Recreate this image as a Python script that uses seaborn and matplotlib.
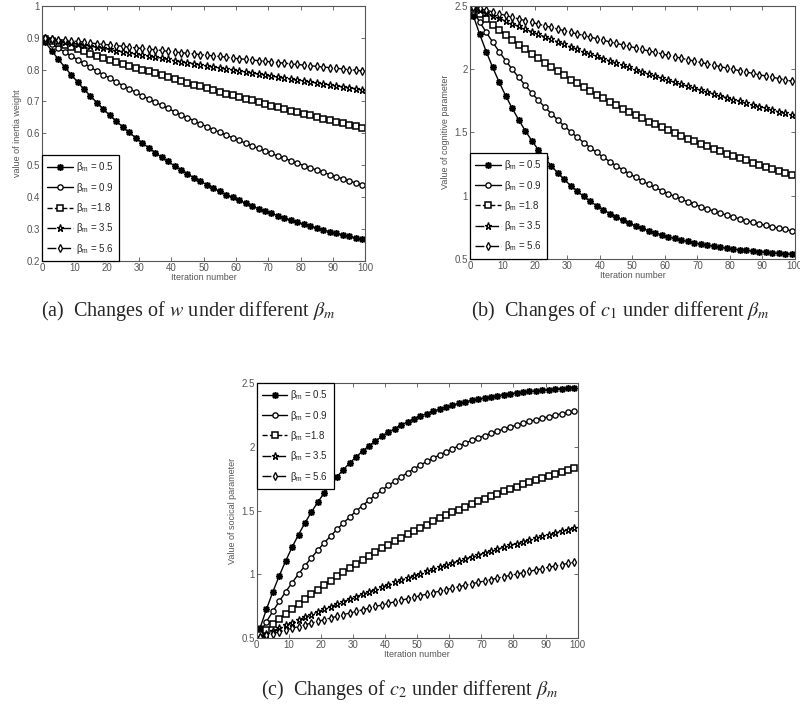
import matplotlib
matplotlib.use("Agg")
import matplotlib.pyplot as plt
import seaborn as sns
from matplotlib.font_manager import FontProperties
from matplotlib.ticker import FuncFormatter, MultipleLocator

# iteration numbers where the markers sit
iterations = list(range(1, 100, 2))
beta_labels = ["$\\mathregular{\\beta_m}$ = 0.5", "$\\mathregular{\\beta_m}$ = 0.9",
               "$\\mathregular{\\beta_m}$ =1.8", "$\\mathregular{\\beta_m}$ = 3.5",
               "$\\mathregular{\\beta_m}$ = 5.6"]

# (a) inertia weight w
w_b05 = [0.886, 0.859, 0.833, 0.808, 0.784, 0.761, 0.738, 0.717, 0.696, 0.676,
         0.656, 0.638, 0.620, 0.603, 0.586, 0.570, 0.555, 0.540, 0.525, 0.512,
         0.498, 0.486, 0.473, 0.461, 0.450, 0.439, 0.428, 0.418, 0.408, 0.399,
         0.390, 0.381, 0.372, 0.364, 0.356, 0.349, 0.342, 0.334, 0.328, 0.321,
         0.315, 0.309, 0.303, 0.297, 0.292, 0.287, 0.282, 0.277, 0.272, 0.268]
w_b09 = [0.893, 0.881, 0.868, 0.855, 0.843, 0.831, 0.819, 0.807, 0.795, 0.784,
         0.773, 0.761, 0.750, 0.740, 0.729, 0.718, 0.708, 0.698, 0.688, 0.678,
         0.668, 0.658, 0.649, 0.640, 0.630, 0.621, 0.612, 0.603, 0.595, 0.586,
         0.578, 0.569, 0.561, 0.553, 0.545, 0.537, 0.529, 0.522, 0.514, 0.507,
         0.499, 0.492, 0.485, 0.478, 0.471, 0.464, 0.458, 0.451, 0.445, 0.438]
w_b18 = [0.897, 0.890, 0.883, 0.876, 0.870, 0.863, 0.857, 0.850, 0.844, 0.837,
         0.831, 0.825, 0.818, 0.812, 0.806, 0.800, 0.794, 0.788, 0.782, 0.776,
         0.770, 0.764, 0.758, 0.753, 0.747, 0.741, 0.736, 0.730, 0.724, 0.719,
         0.713, 0.708, 0.703, 0.697, 0.692, 0.687, 0.682, 0.676, 0.671, 0.666,
         0.661, 0.656, 0.651, 0.646, 0.641, 0.636, 0.632, 0.627, 0.622, 0.617]
w_b35 = [0.898, 0.895, 0.891, 0.887, 0.884, 0.880, 0.877, 0.873, 0.870, 0.866,
         0.863, 0.859, 0.856, 0.852, 0.849, 0.845, 0.842, 0.838, 0.835, 0.832,
         0.828, 0.825, 0.822, 0.818, 0.815, 0.812, 0.808, 0.805, 0.802, 0.799,
         0.795, 0.792, 0.789, 0.786, 0.783, 0.779, 0.776, 0.773, 0.770, 0.767,
         0.764, 0.761, 0.758, 0.755, 0.752, 0.749, 0.746, 0.743, 0.740, 0.737]
w_b56 = [0.899, 0.897, 0.894, 0.892, 0.890, 0.888, 0.886, 0.883, 0.881, 0.879,
         0.877, 0.875, 0.873, 0.870, 0.868, 0.866, 0.864, 0.862, 0.860, 0.857,
         0.855, 0.853, 0.851, 0.849, 0.847, 0.845, 0.843, 0.841, 0.839, 0.836,
         0.834, 0.832, 0.830, 0.828, 0.826, 0.824, 0.822, 0.820, 0.818, 0.816,
         0.814, 0.812, 0.810, 0.808, 0.806, 0.804, 0.802, 0.800, 0.798, 0.796]

# (b) cognitive parameter c1
c1_b05 = [2.422, 2.274, 2.137, 2.012, 1.895, 1.788, 1.689, 1.598, 1.513, 1.435,
          1.363, 1.297, 1.236, 1.179, 1.127, 1.079, 1.034, 0.993, 0.955, 0.920,
          0.888, 0.858, 0.831, 0.805, 0.782, 0.760, 0.740, 0.722, 0.705, 0.689,
          0.674, 0.661, 0.649, 0.637, 0.627, 0.617, 0.608, 0.600, 0.592, 0.585,
          0.578, 0.572, 0.567, 0.562, 0.557, 0.553, 0.548, 0.545, 0.541, 0.538]
c1_b09 = [2.456, 2.371, 2.290, 2.212, 2.137, 2.066, 1.998, 1.933, 1.871, 1.811,
          1.754, 1.700, 1.648, 1.598, 1.550, 1.504, 1.461, 1.419, 1.379, 1.341,
          1.304, 1.269, 1.236, 1.204, 1.173, 1.144, 1.116, 1.089, 1.064, 1.039,
          1.016, 0.993, 0.972, 0.951, 0.932, 0.913, 0.895, 0.878, 0.861, 0.846,
          0.831, 0.816, 0.802, 0.789, 0.777, 0.765, 0.753, 0.742, 0.732, 0.722]
c1_b18 = [2.478, 2.434, 2.392, 2.350, 2.310, 2.270, 2.231, 2.193, 2.156, 2.119,
          2.084, 2.049, 2.015, 1.982, 1.949, 1.917, 1.886, 1.856, 1.826, 1.797,
          1.768, 1.740, 1.713, 1.686, 1.660, 1.635, 1.610, 1.585, 1.562, 1.538,
          1.515, 1.493, 1.471, 1.450, 1.429, 1.409, 1.389, 1.369, 1.350, 1.331,
          1.313, 1.295, 1.278, 1.261, 1.244, 1.228, 1.212, 1.196, 1.181, 1.166]
c1_b35 = [2.489, 2.466, 2.444, 2.422, 2.400, 2.378, 2.357, 2.336, 2.315, 2.294,
          2.274, 2.254, 2.234, 2.214, 2.195, 2.175, 2.156, 2.137, 2.119, 2.100,
          2.082, 2.064, 2.047, 2.029, 2.012, 1.994, 1.977, 1.961, 1.944, 1.928,
          1.911, 1.895, 1.879, 1.864, 1.848, 1.833, 1.818, 1.803, 1.788, 1.773,
          1.759, 1.745, 1.730, 1.717, 1.703, 1.689, 1.676, 1.662, 1.649, 1.636]
c1_b56 = [2.493, 2.479, 2.465, 2.451, 2.437, 2.423, 2.409, 2.396, 2.382, 2.369,
          2.355, 2.342, 2.329, 2.316, 2.303, 2.290, 2.278, 2.265, 2.252, 2.240,
          2.228, 2.215, 2.203, 2.191, 2.179, 2.167, 2.155, 2.143, 2.132, 2.120,
          2.108, 2.097, 2.086, 2.074, 2.063, 2.052, 2.041, 2.030, 2.019, 2.008,
          1.998, 1.987, 1.976, 1.966, 1.955, 1.945, 1.935, 1.925, 1.914, 1.904]

# (c) social parameter c2
c2_b05 = [0.578, 0.726, 0.863, 0.988, 1.105, 1.212, 1.311, 1.402, 1.487, 1.565,
          1.637, 1.703, 1.764, 1.821, 1.873, 1.921, 1.966, 2.007, 2.045, 2.080,
          2.112, 2.142, 2.169, 2.195, 2.218, 2.240, 2.260, 2.278, 2.295, 2.311,
          2.326, 2.339, 2.351, 2.363, 2.373, 2.383, 2.392, 2.400, 2.408, 2.415,
          2.422, 2.428, 2.433, 2.438, 2.443, 2.447, 2.452, 2.455, 2.459, 2.462]
c2_b09 = [0.544, 0.629, 0.710, 0.788, 0.863, 0.934, 1.002, 1.067, 1.129, 1.189,
          1.246, 1.300, 1.352, 1.402, 1.450, 1.496, 1.539, 1.581, 1.621, 1.659,
          1.696, 1.731, 1.764, 1.796, 1.827, 1.856, 1.884, 1.911, 1.936, 1.961,
          1.984, 2.007, 2.028, 2.049, 2.068, 2.087, 2.105, 2.122, 2.139, 2.154,
          2.169, 2.184, 2.198, 2.211, 2.223, 2.235, 2.247, 2.258, 2.268, 2.278]
c2_b18 = [0.522, 0.566, 0.608, 0.650, 0.690, 0.730, 0.769, 0.807, 0.844, 0.881,
          0.916, 0.951, 0.985, 1.018, 1.051, 1.083, 1.114, 1.144, 1.174, 1.203,
          1.232, 1.260, 1.287, 1.314, 1.340, 1.365, 1.390, 1.415, 1.438, 1.462,
          1.485, 1.507, 1.529, 1.550, 1.571, 1.591, 1.611, 1.631, 1.650, 1.669,
          1.687, 1.705, 1.722, 1.739, 1.756, 1.772, 1.788, 1.804, 1.819, 1.834]
c2_b35 = [0.511, 0.534, 0.556, 0.578, 0.600, 0.622, 0.643, 0.664, 0.685, 0.706,
          0.726, 0.746, 0.766, 0.786, 0.805, 0.825, 0.844, 0.863, 0.881, 0.900,
          0.918, 0.936, 0.953, 0.971, 0.988, 1.006, 1.023, 1.039, 1.056, 1.072,
          1.089, 1.105, 1.121, 1.136, 1.152, 1.167, 1.182, 1.197, 1.212, 1.227,
          1.241, 1.255, 1.270, 1.283, 1.297, 1.311, 1.324, 1.338, 1.351, 1.364]
c2_b56 = [0.507, 0.521, 0.535, 0.549, 0.563, 0.577, 0.591, 0.604, 0.618, 0.631,
          0.645, 0.658, 0.671, 0.684, 0.697, 0.710, 0.722, 0.735, 0.748, 0.760,
          0.772, 0.785, 0.797, 0.809, 0.821, 0.833, 0.845, 0.857, 0.868, 0.880,
          0.892, 0.903, 0.914, 0.926, 0.937, 0.948, 0.959, 0.970, 0.981, 0.992,
          1.002, 1.013, 1.024, 1.034, 1.045, 1.055, 1.065, 1.075, 1.086, 1.096]

sns.set_style("ticks")
plt.rcParams["font.family"] = ["Liberation Sans", "DejaVu Sans"]
plt.rcParams["mathtext.fontset"] = "stix"

# marker / line style for each beta (same order as beta_labels)
styles = [
    dict(marker=(8, 2, 0), linestyle="-", markersize=5, markeredgewidth=1.1),
    dict(marker="o", linestyle="-", markersize=3.8, markeredgewidth=0.95),
    dict(marker="s", linestyle="--", markersize=4.4, markeredgewidth=1.1),
    dict(marker="*", linestyle="-.", markersize=5.2, markeredgewidth=0.95),
    dict(marker="d", linestyle="-.", markersize=4.2, markeredgewidth=0.95),
]

frame_col = "#555555"
legend_font = FontProperties(family="Liberation Sans", size=7,
                             math_fontfamily="dejavusans")


def draw_panel(ax, series, ylim, ystep, ylabel, legend_loc):
    for vals, st in zip(series, styles):
        sns.lineplot(x=iterations, y=vals, ax=ax, color="black",
                     linewidth=1.0, markerfacecolor="white",
                     markeredgecolor="black", **st)
    ax.set_xlim(0, 100)
    ax.set_ylim(*ylim)
    ax.xaxis.set_major_locator(MultipleLocator(10))
    ax.yaxis.set_major_locator(MultipleLocator(ystep))
    ax.yaxis.set_major_formatter(FuncFormatter(lambda v, p: "%g" % round(v, 2)))
    ax.tick_params(direction="in", top=True, right=True, length=3, width=0.6,
                   labelsize=7, colors=frame_col, pad=1.5)
    for sp in ax.spines.values():
        sp.set_visible(True)
        sp.set_color(frame_col)
        sp.set_linewidth(0.8)
    ax.set_xlabel("Iteration number", fontsize=6.5, color=frame_col, labelpad=0)
    ax.set_ylabel(ylabel, fontsize=6.5, color=frame_col, labelpad=3)
    leg = ax.legend(ax.lines[:5], beta_labels, loc=legend_loc, prop=legend_font,
                    fancybox=False, framealpha=1, edgecolor="black",
                    borderaxespad=0, handlelength=2.6, labelspacing=0.65,
                    borderpad=0.55, handletextpad=0.3)
    leg.get_frame().set_linewidth(0.9)


fig = plt.figure(figsize=(8, 7.17), dpi=100)
ax_a = fig.add_axes([0.0525, 0.636, 0.404, 0.356])
ax_b = fig.add_axes([0.5875, 0.639, 0.406, 0.353])
ax_c = fig.add_axes([0.321, 0.110, 0.401, 0.356])

draw_panel(ax_a, [w_b05, w_b09, w_b18, w_b35, w_b56], (0.2, 1.0), 0.1,
           "value of inertia weight", "lower left")
draw_panel(ax_b, [c1_b05, c1_b09, c1_b18, c1_b35, c1_b56], (0.5, 2.5), 0.5,
           "Value of cognitive parameter", "lower left")
draw_panel(ax_c, [c2_b05, c2_b09, c2_b18, c2_b35, c2_b56], (0.5, 2.5), 0.5,
           "Value of socical parameter", "upper left")

cap_font = dict(fontsize=14.5, family="Liberation Serif", ha="center", va="center")
fig.text(0.235, 0.566, "(a)  Changes of $w$ under different $\\beta_m$", **cap_font)
fig.text(0.775, 0.566, "(b)  Changes of $c_1$ under different $\\beta_m$", **cap_font)
fig.text(0.5125, 0.038, "(c)  Changes of $c_2$ under different $\\beta_m$", **cap_font)

plt.savefig("out.png", dpi=100)
plt.close()
